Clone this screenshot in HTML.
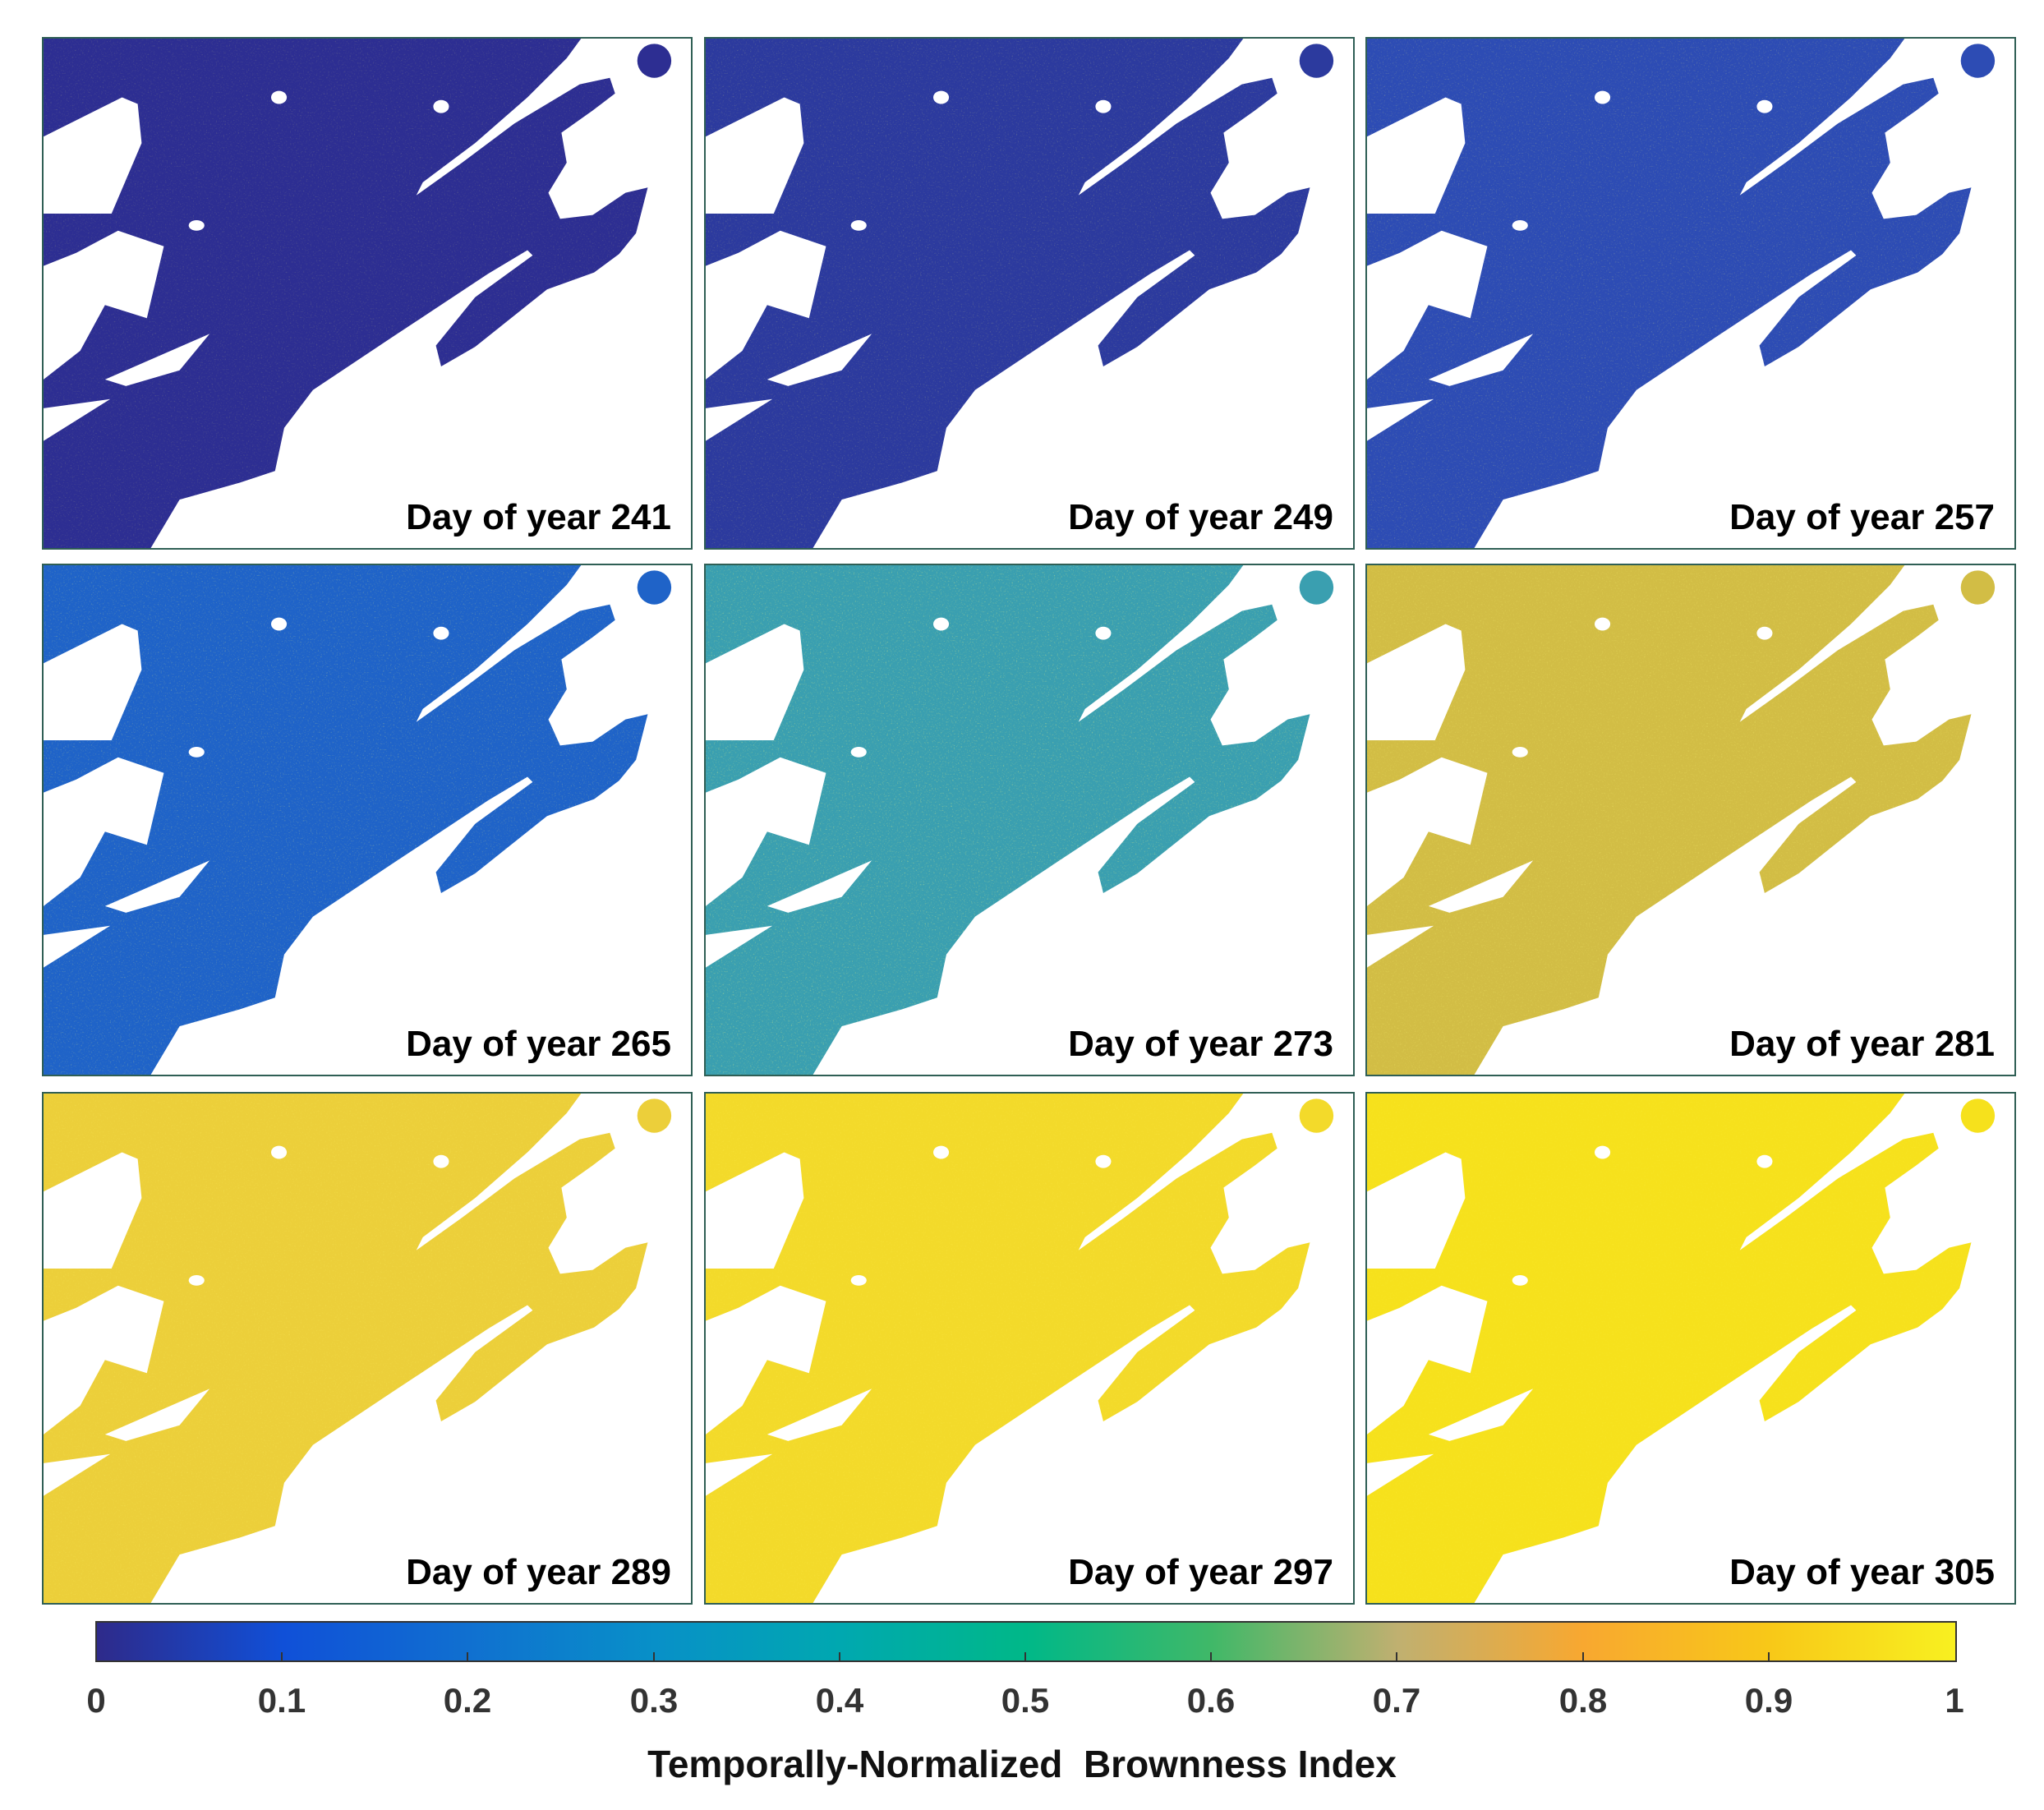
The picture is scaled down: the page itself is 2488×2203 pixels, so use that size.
<!DOCTYPE html>
<html><head><meta charset="utf-8"><style>
html,body{margin:0;padding:0;background:#fff;width:2488px;height:2203px;overflow:hidden;position:relative;font-family:"Liberation Sans",sans-serif}
.p{position:absolute;width:788px;height:620px;border:2px solid #2f5f55;overflow:hidden;background:#fff}
.p svg{position:absolute;left:0;top:0;width:788px;height:620px}
.lab{position:absolute;right:24px;bottom:12px;font-weight:bold;font-size:44px;color:#000;white-space:nowrap}
.tk{position:absolute;top:2046px;font-weight:bold;font-size:42px;color:#333;transform:translateX(-50%)}
.tm{position:absolute;top:2011px;width:2px;height:12px;background:#333}
</style></head><body>
<svg width="0" height="0" style="position:absolute">
<defs>
<filter id="nz" x="0" y="0" width="100%" height="100%">
<feTurbulence type="fractalNoise" baseFrequency="0.9" numOctaves="2" seed="3"/>
<feColorMatrix type="matrix" values="0 0 0 0 1  0 0 0 0 1  0 0 0 0 0.2  0 0 0 2.2 -1.3"/>
</filter>
<g id="water" fill="#fff">
<path d="M411,0 L495,0 L495,390 L82,390 L104,353 L150,340 L177,331 L184,298 L206,269 L266,229 L340,180 L370,162 L374,166 L330,198 L300,235 L304,251 L330,236 L360,212 L385,192 L421,179 L440,165 L453,149 L462,114 L445,118 L420,135 L395,138 L386,118 L400,95 L396,72 L420,55 L437,42 L433,30 L410,35 L360,65 L320,95 L285,120 L290,110 L330,80 L370,45 L400,15 Z"/>
<path d="M0,75 L60,45 L72,50 L75,80 L52,134 L0,134 Z"/>
<path d="M0,174 L25,164 L57,147 L92,159 L79,214 L47,204 L28,239 L0,261 Z"/>
<path d="M47,261 L127,226 L104,254 L63,266 Z"/>
<path d="M0,283 L51,276 L0,308 Z"/>
<ellipse cx="304" cy="52" rx="6" ry="5"/>
<ellipse cx="180" cy="45" rx="6" ry="5"/>
<ellipse cx="117" cy="143" rx="6" ry="4"/>
</g>
</defs></svg>

<div class="p" style="left:51px;top:45px"><svg viewBox="0 0 495 390" preserveAspectRatio="none"><rect width="495" height="390" fill="#2d2e92"/><rect width="495" height="390" filter="url(#nz)" opacity="0.25"/><use href="#water"/><ellipse cx="467" cy="17" rx="13" ry="13" fill="#2d2e92"/></svg><div class="lab">Day of year 241</div></div>
<div class="p" style="left:857px;top:45px"><svg viewBox="0 0 495 390" preserveAspectRatio="none"><rect width="495" height="390" fill="#2c3a9e"/><rect width="495" height="390" filter="url(#nz)" opacity="0.3"/><use href="#water"/><ellipse cx="467" cy="17" rx="13" ry="13" fill="#2c3a9e"/></svg><div class="lab">Day of year 249</div></div>
<div class="p" style="left:1662px;top:45px"><svg viewBox="0 0 495 390" preserveAspectRatio="none"><rect width="495" height="390" fill="#2d4cb4"/><rect width="495" height="390" filter="url(#nz)" opacity="0.35"/><use href="#water"/><ellipse cx="467" cy="17" rx="13" ry="13" fill="#2d4cb4"/></svg><div class="lab">Day of year 257</div></div>

<div class="p" style="left:51px;top:686px"><svg viewBox="0 0 495 390" preserveAspectRatio="none"><rect width="495" height="390" fill="#1f63c8"/><rect width="495" height="390" filter="url(#nz)" opacity="0.4"/><use href="#water"/><ellipse cx="467" cy="17" rx="13" ry="13" fill="#1f63c8"/></svg><div class="lab">Day of year 265</div></div>
<div class="p" style="left:857px;top:686px"><svg viewBox="0 0 495 390" preserveAspectRatio="none"><rect width="495" height="390" fill="#3a9fb0"/><rect width="495" height="390" filter="url(#nz)" opacity="0.55"/><use href="#water"/><ellipse cx="467" cy="17" rx="13" ry="13" fill="#3a9fb0"/></svg><div class="lab">Day of year 273</div></div>
<div class="p" style="left:1662px;top:686px"><svg viewBox="0 0 495 390" preserveAspectRatio="none"><rect width="495" height="390" fill="#d2bd45"/><rect width="495" height="390" filter="url(#nz)" opacity="0.4"/><use href="#water"/><ellipse cx="467" cy="17" rx="13" ry="13" fill="#d2bd45"/></svg><div class="lab">Day of year 281</div></div>

<div class="p" style="left:51px;top:1329px"><svg viewBox="0 0 495 390" preserveAspectRatio="none"><rect width="495" height="390" fill="#eccf3a"/><rect width="495" height="390" filter="url(#nz)" opacity="0.3"/><use href="#water"/><ellipse cx="467" cy="17" rx="13" ry="13" fill="#eccf3a"/></svg><div class="lab">Day of year 289</div></div>
<div class="p" style="left:857px;top:1329px"><svg viewBox="0 0 495 390" preserveAspectRatio="none"><rect width="495" height="390" fill="#f3da2a"/><rect width="495" height="390" filter="url(#nz)" opacity="0.25"/><use href="#water"/><ellipse cx="467" cy="17" rx="13" ry="13" fill="#f3da2a"/></svg><div class="lab">Day of year 297</div></div>
<div class="p" style="left:1662px;top:1329px"><svg viewBox="0 0 495 390" preserveAspectRatio="none"><rect width="495" height="390" fill="#f6e11c"/><rect width="495" height="390" filter="url(#nz)" opacity="0.2"/><use href="#water"/><ellipse cx="467" cy="17" rx="13" ry="13" fill="#f6e11c"/></svg><div class="lab">Day of year 305</div></div>

<div style="position:absolute;left:116px;top:1973px;width:2262px;height:46px;border:2px solid #333;background:linear-gradient(to right,#2e2a8a 0%,#1050d8 10%,#1070d0 20%,#0890c8 30%,#00a8b0 40%,#00b888 50%,#40b868 60%,#c0b070 70%,#f8a830 80%,#f8c818 90%,#f8f020 100%)"></div>
<div class="tm" style="left:342px"></div><div class="tm" style="left:568px"></div><div class="tm" style="left:795px"></div><div class="tm" style="left:1021px"></div><div class="tm" style="left:1247px"></div><div class="tm" style="left:1473px"></div><div class="tm" style="left:1699px"></div><div class="tm" style="left:1926px"></div><div class="tm" style="left:2152px"></div>
<div class="tk" style="left:117px">0</div>
<div class="tk" style="left:343px">0.1</div>
<div class="tk" style="left:569px">0.2</div>
<div class="tk" style="left:796px">0.3</div>
<div class="tk" style="left:1022px">0.4</div>
<div class="tk" style="left:1248px">0.5</div>
<div class="tk" style="left:1474px">0.6</div>
<div class="tk" style="left:1700px">0.7</div>
<div class="tk" style="left:1927px">0.8</div>
<div class="tk" style="left:2153px">0.9</div>
<div class="tk" style="left:2379px">1</div>
<div style="position:absolute;left:0;width:2488px;top:2120px;text-align:center;font-weight:bold;font-size:46px;color:#111">Temporally-Normalized&nbsp; Brownness Index</div>
</body></html>
